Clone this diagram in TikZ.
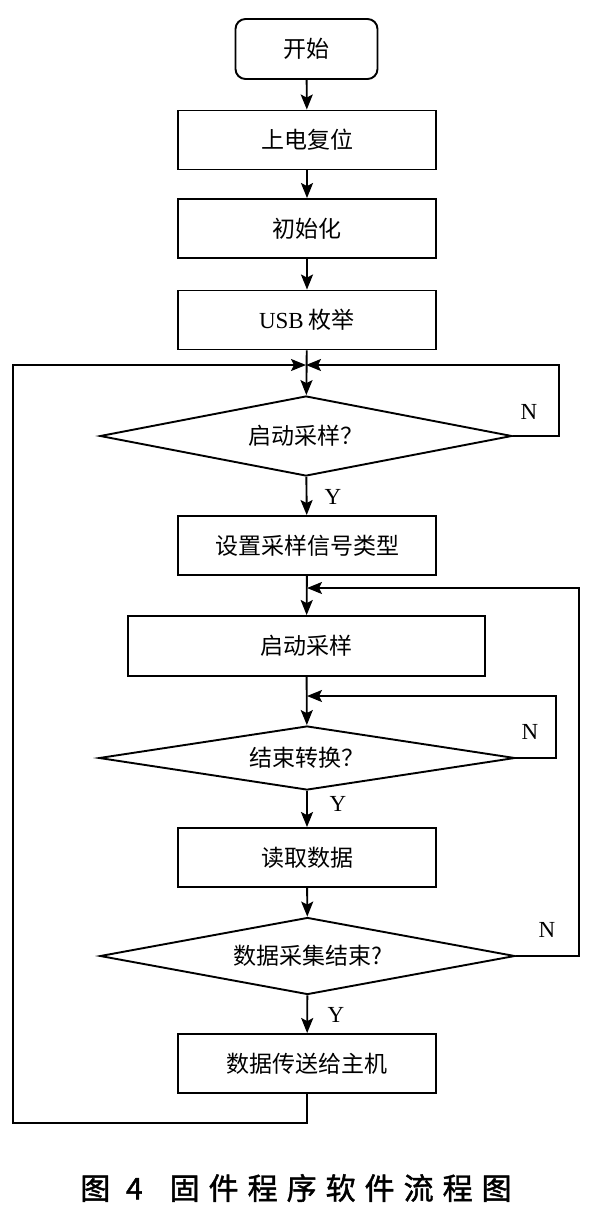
\documentclass[tikz,border=0pt]{standalone}
\usepackage{fontspec}
\setmainfont{Liberation Serif}
\newfontfamily\cjk{Noto Sans CJK SC}
\newfontfamily\capfont[LetterSpace=30,FakeBold=1.5]{Noto Sans CJK SC}
\usetikzlibrary{shapes.geometric,arrows.meta}
\begin{document}
\begin{tikzpicture}[x=1pt,y=-1pt,
  lw/.style={line width=1.9pt},
  txt/.style={font=\fontsize{23}{27}\selectfont\cjk},
  startbox/.style={draw,lw,rounded corners=10pt,minimum width=142pt,minimum height=60pt,inner sep=0pt,txt},
  proc/.style={draw,lw,minimum width=258pt,minimum height=59pt,inner sep=0pt,txt},
  decide/.style={draw,lw,shape=diamond,aspect=5,inner sep=0pt,txt},
  arr/.style={lw,-{Stealth[length=15pt,width=12pt,inset=3pt]}},
  yn/.style={font=\fontsize{23}{27}\selectfont\rmfamily,inner sep=0pt}]
\path[use as bounding box] (0,0) rectangle (592,1210);

\node[startbox] (start) at (306.5,49) {开始};
\node[proc] (b1) at (307,140) {上电复位};
\node[proc] (b2) at (307,228.5) {初始化};
\node[proc] (b3) at (307,320) {{\rmfamily USB} 枚举};
\node[decide,minimum width=412pt,minimum height=80pt] (d1) at (306,436) {启动采样？};
\node[proc] (b4) at (307,545.5) {设置采样信号类型};
\node[proc,minimum width=357pt,minimum height=60pt] (b5) at (306.5,646) {启动采样};
\node[decide,minimum width=416pt,minimum height=64pt] (d2) at (307,758) {结束转换？};
\node[proc] (b6) at (307,857.5) {读取数据};
\node[decide,minimum width=415pt,minimum height=77pt] (d3) at (307.5,956) {数据采集结束?};
\node[proc] (b7) at (307,1063.5) {数据传送给主机};

\coordinate (j1) at (306,365);
\coordinate (r1) at (559,365);
\coordinate (l1) at (13,365);
\coordinate (ll) at (13,1123);
\coordinate (lb) at (307,1123);
\coordinate (j2) at (307,696);
\coordinate (r2) at (556,696);
\coordinate (j3) at (307,588);
\coordinate (r3) at (579,588);

\draw[arr] (start) -- (b1);
\draw[arr] (b1) -- (b2);
\draw[arr] (b2) -- (b3);
\draw[arr] (b3) -- (d1);
\draw[arr] (d1.east) -| (r1) -- (j1);
\draw[arr] (b7.south) -- (lb) -- (ll) -- (l1) -- (j1);
\draw[arr] (d1) -- (b4);
\draw[arr] (b4) -- (b5);
\draw[arr] (b5) -- (d2);
\draw[arr] (d2.east) -| (r2) -- (j2);
\draw[arr] (d2) -- (b6);
\draw[arr] (b6) -- (d3);
\draw[arr] (d3.east) -| (r3) -- (j3);
\draw[arr] (d3) -- (b7);

\node[yn] (n1) at (529,412) {N};
\node[yn] (n2) at (530,732) {N};
\node[yn] (n3) at (547,930) {N};
\node[yn] (y1) at (333,497) {Y};
\node[yn] (y2) at (338,804) {Y};
\node[yn] (y3) at (336,1015) {Y};

\node[font=\fontsize{30}{34}\selectfont\capfont,inner sep=0pt] (cap) at (296,1188) {图 4\hspace{0.9em}固件程序软件流程图};
\end{tikzpicture}
\end{document}
